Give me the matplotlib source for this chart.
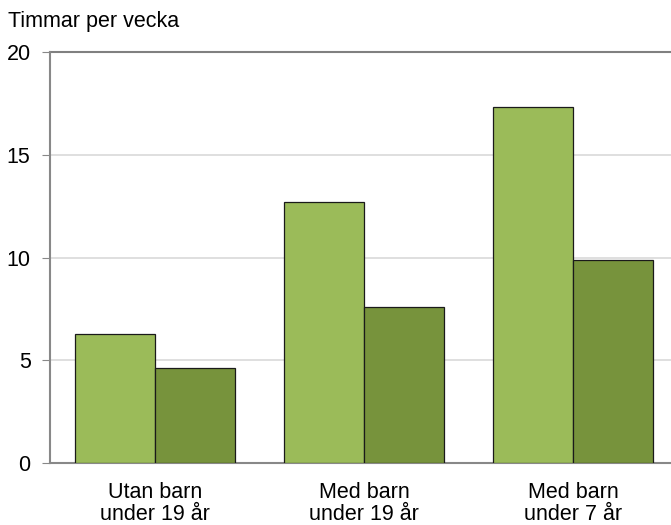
import matplotlib
matplotlib.use("Agg")
import matplotlib.pyplot as plt
import numpy as np

plt.rcParams['font.family'] = ['Liberation Sans', 'DejaVu Sans']

categories = ["Utan barn\nunder 19 år", "Med barn\nunder 19 år", "Med barn\nunder 7 år"]
series_a = [6.3, 12.7, 17.3]
series_b = [4.6, 7.6, 9.9]
yticks = [0, 5, 10, 15, 20]

fig = plt.figure(figsize=(6.71, 5.25), dpi=100)
ax = fig.add_axes([50/671, 1-463/525, 1-50/671, (463-52)/525])

x = np.arange(len(categories))
w = 0.383
ax.bar(x - w/2, series_a, width=w, color="#9BBB59", edgecolor="#1a1a1a", linewidth=0.9, zorder=3)
ax.bar(x + w/2, series_b, width=w, color="#77933C", edgecolor="#1a1a1a", linewidth=0.9, zorder=3)

ax.set_xlim(-0.502, 2.469)
ax.set_ylim(0, 20)
ax.set_yticks(yticks)
ax.set_yticklabels([str(t) for t in yticks], fontsize=15.5)
ax.set_xticks(x)
ax.set_xticklabels(categories, fontsize=15.5, linespacing=1.02)
ax.tick_params(axis='x', length=0, pad=14)
ax.tick_params(axis='y', length=6, direction='out', color="#888888", pad=8)

for t in [5, 10, 15]:
    ax.axhline(t, color="#D9D9D9", linewidth=1.2, zorder=1)
ax.axhline(20, color="#808080", linewidth=1.5, zorder=2, clip_on=False)

for s in ['top', 'right']:
    ax.spines[s].set_visible(False)
for s in ['left', 'bottom']:
    ax.spines[s].set_color("#888888")
    ax.spines[s].set_linewidth(1.5)

fig.text(8/671, 1-21/525, "Timmar per vecka", fontsize=15.5, ha='left', va='center')

fig.savefig("out.png", dpi=100)
